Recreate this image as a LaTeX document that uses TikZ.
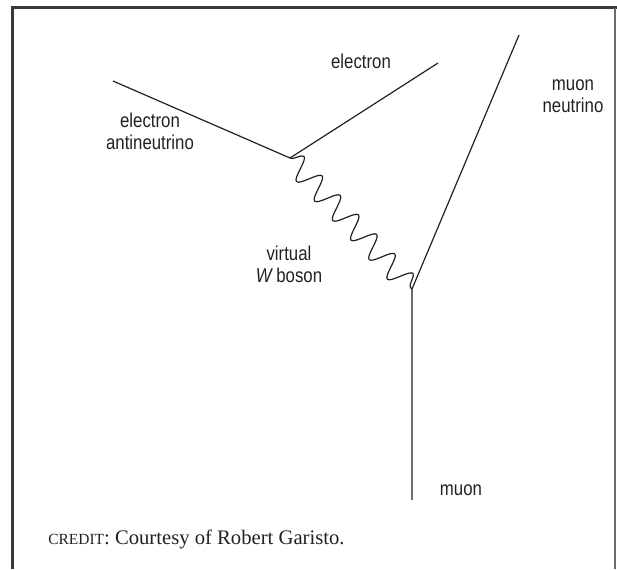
\documentclass[tikz,border=0pt]{standalone}
\usepackage{fontspec}
\setmainfont{Liberation Serif}
\newfontfamily\labelfont[FakeStretch=0.84]{Liberation Sans}
\usetikzlibrary{decorations.pathmorphing}
\definecolor{framegray}{rgb}{.22,.22,.22}
\definecolor{rulegray}{rgb}{.42,.42,.42}
\definecolor{inkgray}{rgb}{.13,.13,.13}

\begin{document}
\begin{tikzpicture}[x=0.75pt,y=-0.75pt,
  particle/.style={line width=0.9pt,color=inkgray},
  boson/.style={line width=0.9pt,color=inkgray,decorate,
    decoration={snake,segment length=20pt,amplitude=8.5pt}},
  lbl/.style={font=\labelfont\fontsize{15pt}{16.5pt}\selectfont,
    align=center,inner sep=0pt,text=inkgray}]
\useasboundingbox (0,0) rectangle (617,569);
\draw[line width=1.9pt,color=framegray] (12.5,569) -- (12.5,7.5) -- (617,7.5);
\draw[line width=1.2pt,color=rulegray] (615,7.5) -- (615,569);
\coordinate (evertex) at (290,158);
\coordinate (mvertex) at (412,289);
\coordinate (antinu) at (113,81);
\coordinate (elec) at (438,63);
\coordinate (munu) at (519,35);
\coordinate (muon) at (412,500);
\draw[particle] (antinu) -- (evertex) -- (elec);
\draw[particle] (munu) -- (mvertex) -- (muon);
\draw[boson] (evertex) -- (mvertex);
\node[lbl] (elabel) at (361,61) {electron};
\node[lbl] (alabel) at (150,131) {electron\\antineutrino};
\node[lbl] (nlabel) at (573,96) {muon\\neutrino};
\node[lbl] (wlabel) at (289,264) {virtual\\\textit{W}\,boson};
\node[lbl] (mlabel) at (461,490) {muon};
\node[anchor=base west,inner sep=0pt,text=inkgray] (credit) at (48,544)
  {\fontsize{11.6pt}{14pt}\selectfont CREDIT\fontsize{15.5pt}{18pt}\selectfont: Courtesy of Robert Garisto.};
\end{tikzpicture}
\end{document}
